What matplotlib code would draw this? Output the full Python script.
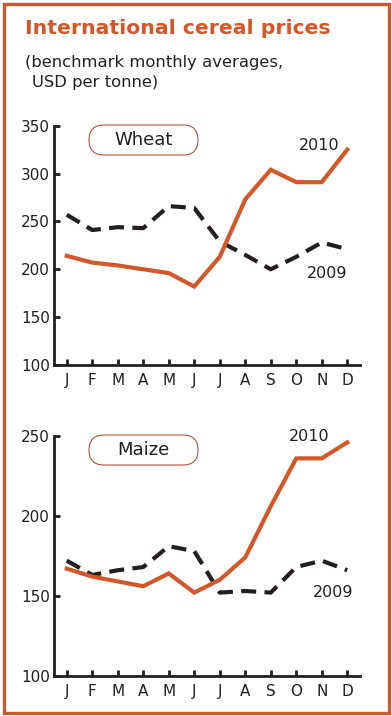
import matplotlib.pyplot as plt
from matplotlib.patches import FancyBboxPatch, Rectangle

months = ['J', 'F', 'M', 'A', 'M', 'J', 'J', 'A', 'S', 'O', 'N', 'D']

wheat_2010 = [214, 207, 204, 200, 196, 182, 213, 273, 304, 291, 291, 325]
wheat_2009 = [257, 241, 244, 243, 266, 264, 229, 215, 200, 213, 228, 221]

maize_2010 = [167, 162, 159, 156, 164, 152, 160, 174, 206, 236, 236, 246]
maize_2009 = [172, 163, 166, 168, 181, 178, 152, 153, 152, 168, 172, 166]

ORANGE = '#d2582a'
DARK = '#231f20'

plt.rcParams['font.family'] = ['DejaVu Sans']

fig = plt.figure(figsize=(3.92, 7.16), dpi=100)

# orange frame around the whole graphic
fig.patches.append(Rectangle((3.5, 3.5), 385, 709, transform=None,
                             fill=False, edgecolor='#c65a2f', linewidth=2.4))

fig.text(25 / 392, 1 - 29 / 716, 'International cereal prices', color=ORANGE,
         fontsize=14.7, fontweight='bold', va='center', ha='left')
fig.text(25 / 392, 1 - 62 / 716, '(benchmark monthly averages,', color=DARK,
         fontsize=11.8, va='center', ha='left')
fig.text(32 / 392, 1 - 82 / 716, 'USD per tonne)', color=DARK,
         fontsize=11.8, va='center', ha='left')


def panel(rect, y2010, y2009, ylim, yticks, name, box_y, lab2010, lab2009):
    ax = fig.add_axes(rect)
    x = range(len(months))
    ax.plot(x, y2009, color=DARK, lw=3, dashes=(3.6, 2.0), solid_capstyle='butt')
    ax.plot(x, y2010, color=ORANGE, lw=3, solid_joinstyle='miter')
    ax.set_xlim(-0.5, 11.5)
    ax.set_ylim(*ylim)
    ax.set_yticks(yticks)
    ax.set_xticks(list(x))
    ax.set_xticklabels(months)
    for s in ['top', 'right']:
        ax.spines[s].set_visible(False)
    for s in ['left', 'bottom']:
        ax.spines[s].set_linewidth(2)
        ax.spines[s].set_color(DARK)
    ax.tick_params(direction='in', length=4, width=2, color=DARK,
                   labelsize=11, labelcolor=DARK)
    ax.tick_params(axis='x', pad=6)
    ax.tick_params(axis='y', pad=3)
    ax.patch.set_alpha(0)

    ax.text(*lab2010, '2010', fontsize=11.5, color=DARK, ha='center', va='center')
    ax.text(*lab2009, '2009', fontsize=11.5, color=DARK, ha='center', va='center')

    box = FancyBboxPatch((0.89, box_y), 1.09, 0.30,
                         boxstyle='round,pad=0,rounding_size=0.15',
                         transform=fig.dpi_scale_trans, facecolor='white',
                         edgecolor='#b5553a', linewidth=0.8)
    fig.patches.append(box)
    fig.text(1.435, box_y + 0.15, name, transform=fig.dpi_scale_trans,
             fontsize=13, color=DARK, ha='center', va='center')
    return ax


panel([54 / 392, 1 - 365 / 716, 306 / 392, 239.3 / 716],
      wheat_2010, wheat_2009, (100, 350), [100, 150, 200, 250, 300, 350],
      'Wheat', 5.61, (9.9, 329), (10.2, 196))

panel([54 / 392, 1 - 675.7 / 716, 306 / 392, 239.7 / 716],
      maize_2010, maize_2009, (100, 250), [100, 150, 200, 250],
      'Maize', 2.51, (9.5, 249.5), (10.45, 152))

fig.savefig('out.png', dpi=100)
